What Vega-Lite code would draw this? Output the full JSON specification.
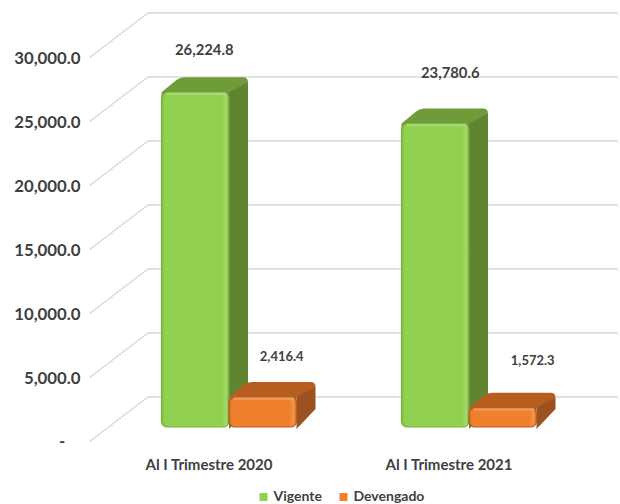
{
"$schema":"https://vega.github.io/schema/vega-lite/v6.json",
"autosize":{"type":"none"},
"padding":{"left":109,"top":58,"right":31,"bottom":62},
"width":480,"height":384,
"background":"white",
"config":{"view":{"stroke":null}},
"datasets":{
 "filas":[
  {"periodo":"Al I Trimestre 2020","serie":"Vigente","valor":26224.8},
  {"periodo":"Al I Trimestre 2021","serie":"Vigente","valor":23780.6},
  {"periodo":"Al I Trimestre 2020","serie":"Devengado","valor":2416.4},
  {"periodo":"Al I Trimestre 2021","serie":"Devengado","valor":1572.3}
 ],
 "rejilla":[
  {"periodo":"Al I Trimestre 2020","valor":0},{"periodo":"Al I Trimestre 2020","valor":5000},{"periodo":"Al I Trimestre 2020","valor":10000},
  {"periodo":"Al I Trimestre 2020","valor":15000},{"periodo":"Al I Trimestre 2020","valor":20000},{"periodo":"Al I Trimestre 2020","valor":25000},{"periodo":"Al I Trimestre 2020","valor":30000}
 ]
},
"data":{"name":"filas"},
"encoding":{
 "x":{"field":"periodo","type":"nominal","title":null,
  "scale":{"domain":["Al I Trimestre 2020","Al I Trimestre 2021"],"paddingInner":0.4375,"paddingOuter":0.21875},
  "axis":{"labelAngle":0,"domain":false,"ticks":false,"grid":false,"labelOffset":-20,"labelPadding":15,"labelFont":"Lato","labelFontWeight":"bold","labelFontSize":15,"labelColor":"#404040"}},
 "y":{"field":"valor","type":"quantitative","stack":null,"title":null,
  "scale":{"domain":[0,30000],"nice":false},
  "axis":{"values":[5000,10000,15000,20000,25000,30000],"domain":false,"ticks":false,"grid":false,"labelPadding":29,"labelFont":"Lato","labelFontWeight":"bold","labelFontSize":16.8,"labelColor":"#404040","format":",.1f"}}
},
"layer":[
 {"data":{"name":"rejilla"},
  "mark":{"type":"point","shape":"M-140,0 L-81,-45 L389,-45","size":4,"filled":false,"stroke":"#D9D9D9","strokeWidth":1.3,"opacity":1}},
 {"data":{"name":"rejilla"},"transform":[{"filter":{"field":"valor","equal":0}}],
  "mark":{"type":"text","font":"Lato","fontWeight":"bold","fontSize":16.8,"fill":"#404040","dx":-167,"baseline":"middle"},
  "encoding":{"text":{"value":"-"}}},
 {"transform":[{"filter":{"field":"serie","equal":"Vigente"}}],
  "mark":{"type":"rule","stroke":"#5F8530","strokeWidth":19,"xOffset":9.5,"yOffset":-24,"y2Offset":-33},
  "encoding":{"y2":{"datum":0}}},
 {"transform":[{"filter":{"field":"serie","equal":"Devengado"}}],
  "mark":{"type":"rule","stroke":"#9C5220","strokeWidth":19,"xOffset":77,"yOffset":-24,"y2Offset":-33},
  "encoding":{"y2":{"datum":0}}},
 {"mark":{"type":"point","shape":"M33.75,-13 L52.75,-33 L33.75,-33 Z","size":4,"filled":true,"opacity":1},
  "encoding":{"xOffset":{"field":"serie","sort":["Vigente","Devengado"]},"y":{"datum":0,"type":"quantitative"},
   "color":{"field":"serie","scale":{"domain":["Vigente","Devengado"],"range":["#5F8530","#9C5220"]},"legend":null}}},
 {"mark":{"type":"point","shape":"M-33.75,-10 L-33.75,-14 L-18.5,-26.5 Q-15,-29 -11,-29 L47.75,-29 Q52.75,-29 52.75,-24 L33.75,-14 L33.75,-10 Z","size":4,"filled":true,"opacity":1},
  "encoding":{"xOffset":{"field":"serie","sort":["Vigente","Devengado"]},
   "color":{"field":"serie","scale":{"domain":["Vigente","Devengado"],"range":["#6F9C38","#B55E20"]},"legend":null}}},
 {"mark":{"type":"bar","cornerRadius":6,"yOffset":-14,"y2Offset":-15,"strokeWidth":1.2},
  "encoding":{"xOffset":{"field":"serie","sort":["Vigente","Devengado"]},"y2":{"datum":0},
   "stroke":{"field":"serie","scale":{"domain":["Vigente","Devengado"],"range":["#7BAF3E","#B9601F"]},"legend":null},
   "color":{"field":"serie","scale":{"domain":["Vigente","Devengado"],"range":["#92D050","#F07F2E"]},
    "legend":{"orient":"none","legendX":147.5,"legendY":432,"direction":"horizontal","columns":2,"title":null,"symbolType":"square","symbolSize":64,"symbolStrokeWidth":0,"labelFont":"Lato","labelFontWeight":"bold","labelFontSize":14,"labelColor":"#404040","columnPadding":14,"labelOffset":3}}}},
 {"mark":{"type":"bar","cornerRadius":6,"yOffset":-14,"y2Offset":-15,
   "fill":{"gradient":"linear","x1":0,"y1":0,"x2":1,"y2":0,"stops":[
    {"offset":0,"color":"rgba(0,0,0,0.07)"},{"offset":0.06,"color":"rgba(0,0,0,0)"},{"offset":0.9,"color":"rgba(255,255,255,0)"},{"offset":0.96,"color":"rgba(255,255,255,0.18)"},{"offset":1,"color":"rgba(0,0,0,0.05)"}]}},
  "encoding":{"xOffset":{"field":"serie","sort":["Vigente","Devengado"]},"y2":{"datum":0}}},
 {"mark":{"type":"point","shape":"M-29,-12.5 L31,-12.5","size":4,"filled":false,"stroke":"#ffffff","strokeOpacity":0.22,"strokeWidth":2.5,"opacity":1},
  "encoding":{"xOffset":{"field":"serie","sort":["Vigente","Devengado"]}}},
 {"transform":[{"filter":{"field":"valor","equal":26224.8}}],
  "mark":{"type":"text","font":"Lato","fontWeight":"bold","fontSize":14.8,"fill":"#404040","dx":9,"dy":-55.5,"baseline":"middle"},
  "encoding":{"xOffset":{"field":"serie","sort":["Vigente","Devengado"]},"text":{"field":"valor","type":"quantitative","format":",.1f"}}},
 {"transform":[{"filter":{"field":"valor","equal":23780.6}}],
  "mark":{"type":"text","font":"Lato","fontWeight":"bold","fontSize":14.8,"fill":"#404040","dx":15,"dy":-64,"baseline":"middle"},
  "encoding":{"xOffset":{"field":"serie","sort":["Vigente","Devengado"]},"text":{"field":"valor","type":"quantitative","format":",.1f"}}},
 {"transform":[{"filter":{"field":"valor","equal":2416.4}}],
  "mark":{"type":"text","font":"Lato","fontWeight":"bold","fontSize":13,"fill":"#404040","dx":19,"dy":-54,"baseline":"middle"},
  "encoding":{"xOffset":{"field":"serie","sort":["Vigente","Devengado"]},"text":{"field":"valor","type":"quantitative","format":",.1f"}}},
 {"transform":[{"filter":{"field":"valor","equal":1572.3}}],
  "mark":{"type":"text","font":"Lato","fontWeight":"bold","fontSize":13,"fill":"#404040","dx":30,"dy":-61,"baseline":"middle"},
  "encoding":{"xOffset":{"field":"serie","sort":["Vigente","Devengado"]},"text":{"field":"valor","type":"quantitative","format":",.1f"}}}
],
"resolve":{"scale":{"color":"independent","stroke":"independent"}}
}
